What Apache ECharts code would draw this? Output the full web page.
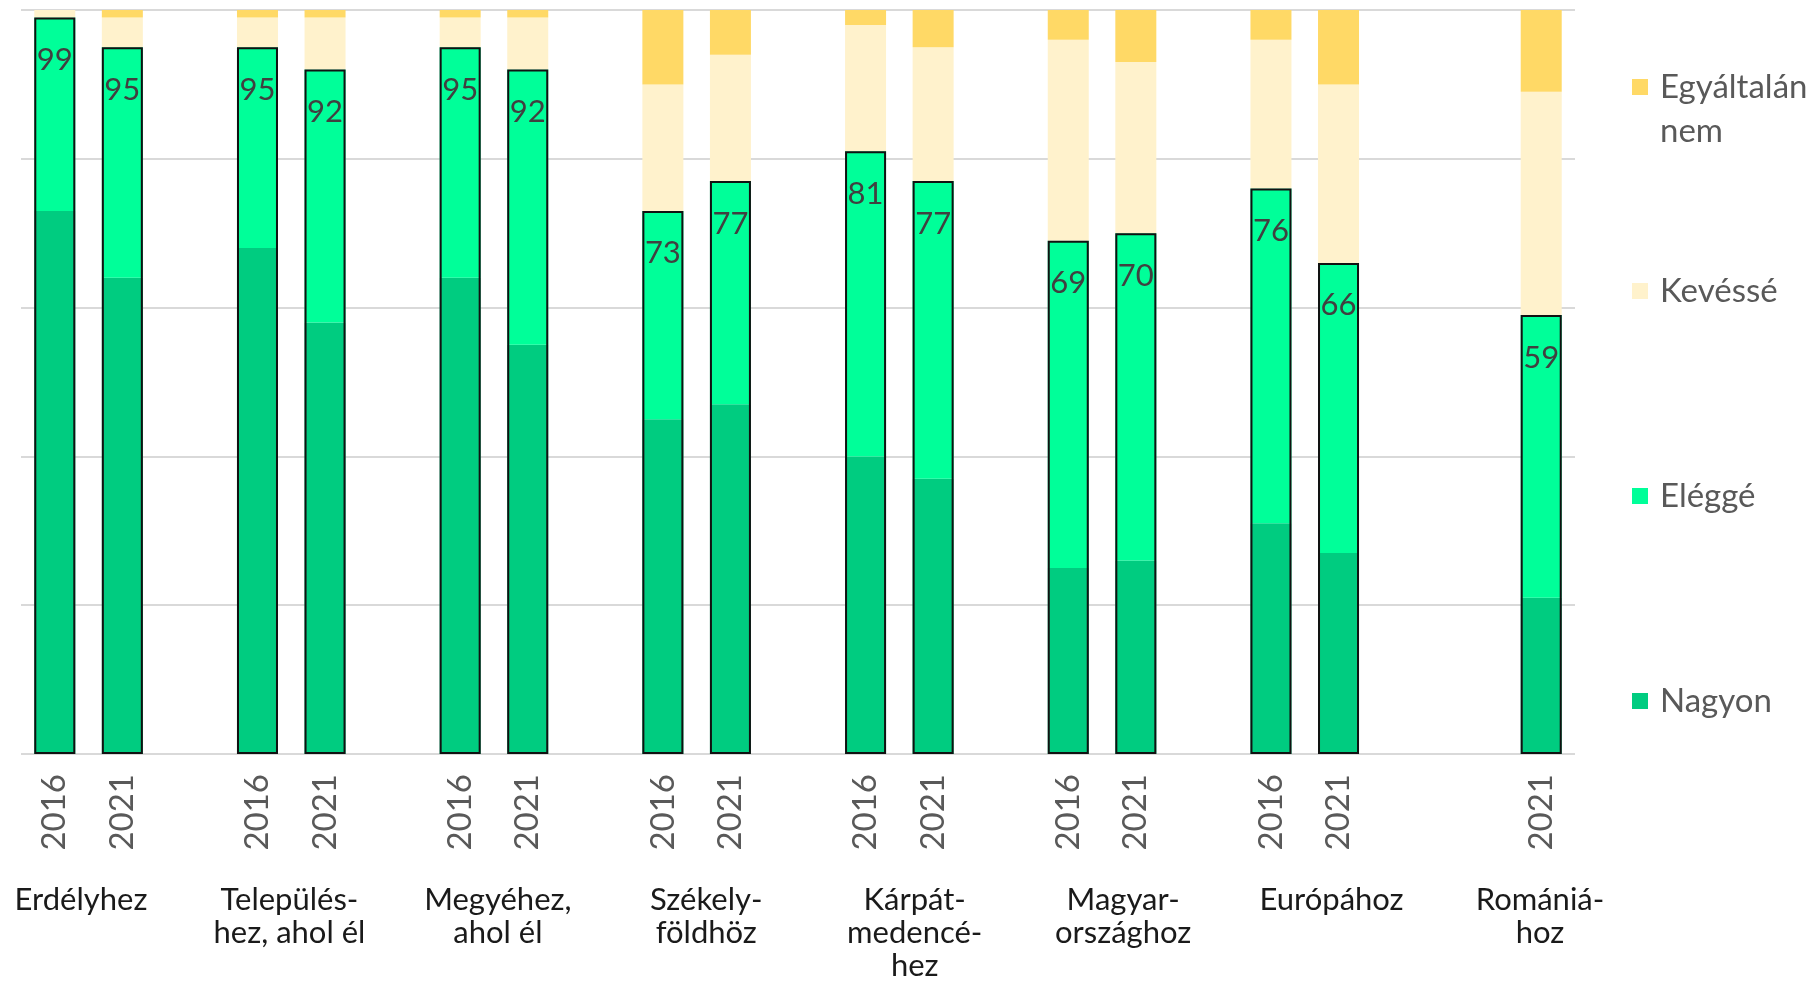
<!DOCTYPE html>
<html><head><meta charset="utf-8">
<script src="https://cdn.jsdelivr.net/npm/echarts@6/dist/echarts.min.js"></script>
<style>html,body{margin:0;padding:0;background:#fff}#c{width:1814px;height:984px}</style>
</head><body><div id="c"></div>
<script>
// ---- data ----
const groups = ['Erdélyhez', 'Település-\nhez, ahol él', 'Megyéhez,\nahol él', 'Székely-\nföldhöz',
                'Kárpát-\nmedencé-\nhez', 'Magyar-\nországhoz', 'Európához', 'Romániá-\nhoz'];
const years = ['2016', '2021'];
const nagyon2016 = [73, 68, 64, 45, 40, 25, 31, null];
const nagyon2021 = [64, 58, 55, 47, 37, 26, 27, 21];
const eleg2016   = [26, 27, 31, 28, 41, 44, 45, null];
const eleg2021   = [31, 34, 37, 30, 40, 44, 39, 38];
const keves2016  = [1, 4, 4, 17, 17, 27, 20, null];
const keves2021  = [4, 7, 7, 17, 18, 23, 24, 30];
const egy2016    = [0, 1, 1, 10, 2, 4, 4, null];
const egy2021    = [1, 1, 1, 6, 5, 7, 10, 11];
const seriesNames = ['Nagyon', 'Eléggé', 'Kevéssé', 'Egyáltalán nem'];
const colors = ['#00CC80', '#00FF99', '#FFF2CC', '#FFD966'];

// ---- build slot layout: 2016, 2021, gap per group ----
function toSlots(a16, a21) {
  const out = [];
  groups.forEach((g, i) => {
    out.push(a16[i]); out.push(a21[i]);
    if (i < groups.length - 1) out.push(null);
  });
  return out;
}
const slotCats = [];
groups.forEach((g, i) => {
  slotCats.push((nagyon2016[i] != null ? years[0] : '') + '#' + i + 'a');
  slotCats.push((nagyon2021[i] != null ? years[1] : '') + '#' + i + 'b');
  if (i < groups.length - 1) slotCats.push('#' + i + 'g');
});
const slotData = [
  toSlots(nagyon2016, nagyon2021),
  toSlots(eleg2016, eleg2021),
  toSlots(keves2016, keves2021),
  toSlots(egy2016, egy2021)
];
const totals = slotData[0].map((v, i) => v == null ? null : v + slotData[1][i]);

const FONT = 'Lato';
const BW = 41;

const series = seriesNames.map((n, k) => ({
  name: n, type: 'bar', stack: 'all', data: slotData[k],
  barWidth: BW, barGap: '-100%',
  itemStyle: { color: colors[k] },
  emphasis: { disabled: true }
}));
series.push({
  name: 'outline', type: 'bar', data: totals, barWidth: BW, barGap: '-100%', z: 5,
  itemStyle: { color: 'rgba(0,0,0,0)', borderColor: '#111', borderWidth: 2 },
  label: { show: true, position: 'insideTop', distance: 27, fontSize: 31, fontFamily: FONT, color: '#404040' },
  emphasis: { disabled: true }, silent: true
});

const LH = 44;
const legendCenters = [82, 291, 496, 701];
const legendOrder = ['Egyáltalán nem', 'Kevéssé', 'Eléggé', 'Nagyon'];
const legends = legendOrder.map((n, i) => ({
  data: [n], orient: 'vertical', left: 1627,
  top: i === 0 ? legendCenters[i] - 1.5 * LH : legendCenters[i] - 5 - LH / 2,
  itemWidth: 16, itemHeight: 16, icon: 'rect', selectedMode: false,
  formatter: name => name === 'Egyáltalán nem' ? '\u00a0\nEgyáltalán\nnem' : name,
  textStyle: {
    fontSize: 33, fontFamily: FONT, color: '#595959', lineHeight: LH,
    padding: [0, 0, 0, 7]
  }
}));

const chart = echarts.init(document.getElementById('c'));
chart.setOption({
  animation: false,
  backgroundColor: '#fff',
  legend: legends,
  grid: [
    { left: 21, right: 239, top: 10, bottom: 230 },
    { left: 81, right: 274, top: 10, bottom: 230 }
  ],
  xAxis: [
    { type: 'category', gridIndex: 0, data: slotCats,
      axisLine: { show: false }, axisTick: { show: false },
      axisLabel: { interval: 0, rotate: 90, margin: 20, fontSize: 33, fontFamily: FONT, color: '#595959',
                   formatter: v => v.split('#')[0] } },
    { type: 'category', gridIndex: 1, data: groups, boundaryGap: false,
      axisLine: { show: false }, axisTick: { show: false }, splitLine: { show: false },
      axisLabel: { interval: 0, margin: 129, fontSize: 31, lineHeight: 33, fontFamily: FONT, color: '#1a1a1a' } }
  ],
  yAxis: [
    { type: 'value', gridIndex: 0, min: 0, max: 100, interval: 20,
      axisLabel: { show: false }, axisLine: { show: false }, axisTick: { show: false },
      splitLine: { lineStyle: { color: '#d9d9d9', width: 2 } } },
    { type: 'value', gridIndex: 1, show: false, min: 0, max: 100 }
  ],
  series: series
});
</script></body></html>
